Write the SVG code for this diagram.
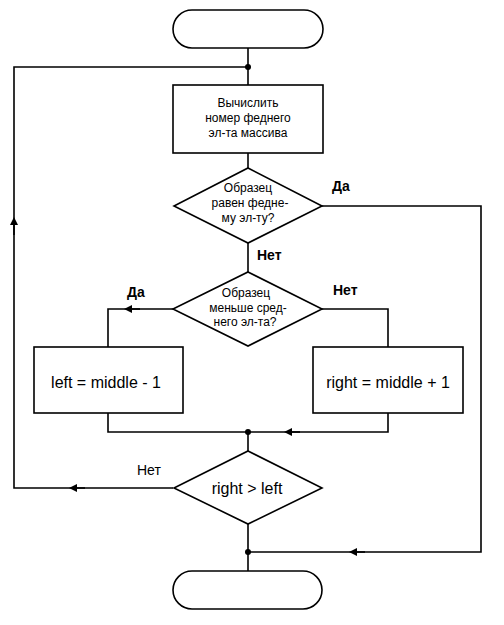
<svg xmlns="http://www.w3.org/2000/svg" width="504" height="625" viewBox="0 0 504 625">
<style>
.shape{fill:#fff;stroke:#000;stroke-width:1.6}
.line{fill:none;stroke:#000;stroke-width:1.6}
.t{font-family:"Liberation Sans","DejaVu Sans",sans-serif;fill:#000;text-anchor:middle}
.s{font-size:12px}
.m{font-size:16px}
.l{font-family:"Liberation Sans","DejaVu Sans",sans-serif;fill:#000;font-size:14px}
.b{font-weight:bold}
</style>
<defs>
<marker id="arr" viewBox="0 0 10 10" refX="5" refY="5" markerWidth="8" markerHeight="8" markerUnits="userSpaceOnUse" orient="auto">
<path d="M0,0 L10,5 L0,10 Z" fill="#000"/>
</marker>
</defs>
<g id="connectors">
<path class="line" d="M248,48 V85"/>
<path class="line" d="M248,153 V168"/>
<path class="line" d="M248,243 V272"/>
<path class="line" d="M322,206 H481 V552 H248"/>
<path class="line" d="M173,309 H108 V347"/>
<path class="line" d="M322,309 H388 V347"/>
<path class="line" d="M108,413 V432 H248"/>
<path class="line" d="M388,413 V432 H248"/>
<path class="line" d="M248,432 V451"/>
<path class="line" d="M173,488 H14 V67 H248"/>
<path class="line" d="M248,524 V571"/>
<path class="line" d="M140,309 L128,309" marker-end="url(#arr)"/>
<path class="line" d="M300,432 L288,432" marker-end="url(#arr)"/>
<path class="line" d="M85,488 L73,488" marker-end="url(#arr)"/>
<path class="line" d="M14,235 L14,221" marker-end="url(#arr)"/>
<path class="line" d="M365,552 L353,552" marker-end="url(#arr)"/>
<circle cx="248" cy="67" r="3" fill="#000"/>
<circle cx="248" cy="432" r="3" fill="#000"/>
<circle cx="248" cy="552" r="3" fill="#000"/>
<text class="l b" x="332" y="191">Да</text>
<text class="l b" x="257" y="260">Нет</text>
<text class="l b" x="127" y="297">Да</text>
<text class="l b" x="333" y="295">Нет</text>
<text class="l" x="137" y="475">Нет</text>
</g>
<g id="start">
<rect class="shape" x="173" y="10" width="150" height="38" rx="19" ry="19"/>
</g>
<g id="compute">
<rect class="shape" x="173" y="85" width="150" height="68"/>
<text class="t s" x="248" y="107">Вычислить</text>
<text class="t s" x="248" y="122">номер феднего</text>
<text class="t s" x="248" y="137">эл-та массива</text>
</g>
<g id="equal">
<polygon class="shape" points="248,168 322,206 248,243 174,206"/>
<text class="t s" x="248" y="192">Образец</text>
<text class="t s" x="250" y="207">равен федне-</text>
<text class="t s" x="248" y="222">му эл-ту?</text>
</g>
<g id="less">
<polygon class="shape" points="248,272 322,309 248,346 173,309"/>
<text class="t s" x="246" y="297">Образец</text>
<text class="t s" x="248" y="312">меньше сред-</text>
<text class="t s" x="245" y="326">него эл-та?</text>
</g>
<g id="left">
<rect class="shape" x="34" y="347" width="149" height="66"/>
<text class="t m" x="106" y="388">left = middle - 1</text>
</g>
<g id="right">
<rect class="shape" x="313" y="347" width="150" height="66"/>
<text class="t m" x="388" y="388">right = middle + 1</text>
</g>
<g id="cond">
<polygon class="shape" points="248,451 322,488 248,524 174,488"/>
<text class="t m" x="247" y="494">right &gt; left</text>
</g>
<g id="end">
<rect class="shape" x="173" y="571" width="149" height="38" rx="19" ry="19"/>
</g>
</svg>
